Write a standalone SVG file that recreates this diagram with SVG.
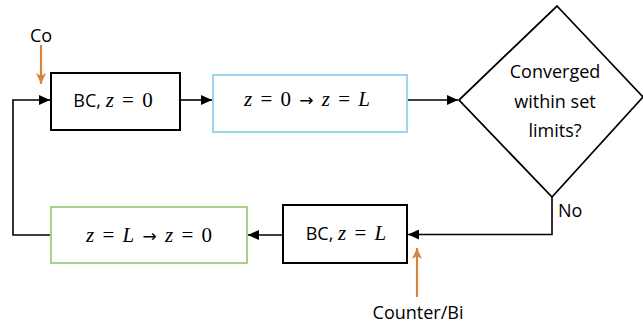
<svg xmlns="http://www.w3.org/2000/svg" width="643" height="327" viewBox="0 0 643 327">
<style>
.sans{font-family:"Open Sans","Liberation Sans",sans-serif;font-size:18px;fill:#000}
.m{font-family:"Liberation Serif","DejaVu Serif",serif;font-size:21px;fill:#000;word-spacing:3px}
.i{font-style:italic}
.ar{font-family:"DejaVu Sans",sans-serif;font-size:17px}
.box{fill:#fff;stroke:#000;stroke-width:2}
.blue{fill:#fff;stroke:#9DD3F3;stroke-width:2}
.green{fill:#fff;stroke:#A9D18E;stroke-width:2}
.c{fill:none;stroke:#000;stroke-width:1.6}
.o{fill:none;stroke:#D4843F;stroke-width:2.2}
</style>
<defs>
<marker id="ah" markerUnits="userSpaceOnUse" markerWidth="12" markerHeight="10" refX="11" refY="5" orient="auto"><path d="M0,0 L11,5 L0,10 z" fill="#000"/></marker>
<marker id="oh" markerUnits="userSpaceOnUse" markerWidth="12" markerHeight="10" refX="11" refY="5" orient="auto"><path d="M0,0 L11,5 L0,10 L3,5 z" fill="#D4843F"/></marker>
</defs>
<rect width="643" height="327" fill="#fff"/>
<g id="connectors">
<path class="c" d="M51,235 H13 V100 H50" marker-end="url(#ah)"/>
<path class="c" d="M180,100 H212" marker-end="url(#ah)"/>
<path class="c" d="M407,100 H458" marker-end="url(#ah)"/>
<path class="c" d="M552,197 V234.5 H408" marker-end="url(#ah)"/>
<path class="c" d="M283,235 H248" marker-end="url(#ah)"/>
<path class="o" d="M41,45 V84" marker-end="url(#oh)"/>
<path class="o" d="M417,297 V248" marker-end="url(#oh)"/>
<text class="sans" x="558" y="217">No</text>
</g>
<g id="co"><text class="sans" x="41" y="42" text-anchor="middle">Co</text></g>
<g id="counter"><text class="sans" x="418" y="319" text-anchor="middle">Counter/Bi</text></g>
<g id="bc0">
<rect class="box" x="51" y="73" width="129" height="57"/>
<text x="113" y="107" text-anchor="middle"><tspan class="sans">BC, </tspan><tspan class="m i">z</tspan><tspan class="m"> = 0</tspan></text>
</g>
<g id="fwd">
<rect class="blue" x="213" y="75" width="194" height="57"/>
<text x="307" y="106" text-anchor="middle" class="m"><tspan class="i">z</tspan> = 0 <tspan class="ar">→</tspan> <tspan class="i">z</tspan> = <tspan class="i">L</tspan></text>
</g>
<g id="decision">
<path d="M557,6 L643,97 L552,197 L459,100 Z" fill="#fff" stroke="#000" stroke-width="1.8"/>
<text class="sans" text-anchor="middle"><tspan x="555" y="78">Converged</tspan><tspan x="555" y="108">within set</tspan><tspan x="555" y="137">limits?</tspan></text>
</g>
<g id="bcL">
<rect class="box" x="283" y="205" width="124" height="58"/>
<text x="346" y="240" text-anchor="middle"><tspan class="sans">BC, </tspan><tspan class="m i">z</tspan><tspan class="m"> = </tspan><tspan class="m i">L</tspan></text>
</g>
<g id="bwd">
<rect class="green" x="51" y="207" width="196" height="56"/>
<text x="149" y="242" text-anchor="middle" class="m"><tspan class="i">z</tspan> = <tspan class="i">L</tspan> <tspan class="ar">→</tspan> <tspan class="i">z</tspan> = 0</text>
</g>
</svg>
